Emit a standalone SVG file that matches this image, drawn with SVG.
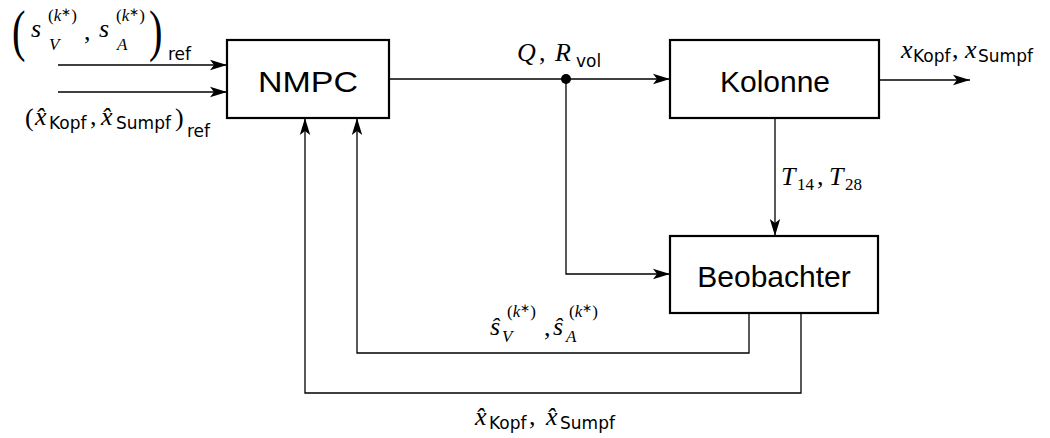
<svg xmlns="http://www.w3.org/2000/svg" width="1050" height="438" viewBox="0 0 1050 438">
<style>
.box{fill:#fff;stroke:#000;stroke-width:2.2}
.lbl{font-family:"Liberation Sans",Arial,sans-serif;font-size:30px;fill:#000}
.ln{fill:none;stroke:#000;stroke-width:1.3}
.mi{font-family:"Liberation Serif","Times New Roman",serif;font-style:italic;font-size:26px}
.mr{font-family:"Liberation Serif","Times New Roman",serif;font-size:26px}
.sup{font-family:"Liberation Serif","Times New Roman",serif;font-size:17px}
.sf{font-family:"DejaVu Sans",Arial,sans-serif;font-size:17px}
.big{font-family:"Liberation Serif","Times New Roman",serif;font-size:54px}
</style>
<defs>
<marker id="ah" markerUnits="userSpaceOnUse" markerWidth="20" markerHeight="12" refX="18" refY="6" orient="auto">
<path d="M18,6 L1,0.8 L5,6 L1,11.2 Z" fill="#000"/>
</marker>
</defs>
<g id="connectors">
<line class="ln" x1="58" y1="65" x2="227" y2="65" marker-end="url(#ah)"/>
<line class="ln" x1="58" y1="92" x2="227" y2="92" marker-end="url(#ah)"/>
<line class="ln" x1="389" y1="79" x2="670" y2="79" marker-end="url(#ah)"/>
<polyline class="ln" points="566,79 566,274 670,274" marker-end="url(#ah)"/>
<circle cx="566" cy="79" r="5" fill="#000"/>
<line class="ln" x1="775" y1="118" x2="775" y2="236" marker-end="url(#ah)"/>
<line class="ln" x1="879" y1="80" x2="970" y2="80" marker-end="url(#ah)"/>
<polyline class="ln" points="749,314 749,353 357,353 357,118" marker-end="url(#ah)"/>
<polyline class="ln" points="801,314 801,393 305,393 305,118" marker-end="url(#ah)"/>
</g>
<g id="nmpc">
<rect class="box" x="227" y="40" width="162" height="78"/>
<text class="lbl" x="308" y="92" text-anchor="middle" textLength="100" lengthAdjust="spacingAndGlyphs">NMPC</text>
</g>
<g id="kolonne">
<rect class="box" x="670" y="40" width="209" height="78"/>
<text class="lbl" x="775" y="92" text-anchor="middle">Kolonne</text>
</g>
<g id="beobachter">
<rect class="box" x="670" y="236" width="208" height="77"/>
<text class="lbl" x="774" y="287" text-anchor="middle">Beobachter</text>
</g>
<g id="labels" fill="#000">
<!-- top-left reference label -->
<text class="big" transform="translate(12,50) scale(0.75,1.05)">(</text>
<text class="mi" x="31" y="37">s</text>
<text class="sup" x="48" y="21">(<tspan font-style="italic">k</tspan><tspan style="font-size:12px" dy="-5">∗</tspan><tspan dy="5">)</tspan></text>
<text class="sup" font-style="italic" x="49" y="50">V</text>
<text class="mr" x="84" y="40">,</text>
<text class="mi" x="99" y="37">s</text>
<text class="sup" x="116" y="21">(<tspan font-style="italic">k</tspan><tspan style="font-size:12px" dy="-5">∗</tspan><tspan dy="5">)</tspan></text>
<text class="sup" font-style="italic" x="117" y="50">A</text>
<text class="big" transform="translate(149,50) scale(0.75,1.05)">)</text>
<text class="sf" x="168" y="60">ref</text>
<!-- bottom-left reference label -->
<text class="mr" x="25" y="126">(</text>
<text class="mi" x="35" y="125">x&#x302;</text>
<text class="sf" x="49" y="129">Kopf</text>
<text class="mr" x="90" y="125">,</text>
<text class="mi" x="101" y="125">x&#x302;</text>
<text class="sf" x="116" y="129">Sumpf</text>
<text class="mr" x="175" y="126">)</text>
<text class="sf" x="187" y="137">ref</text>
<!-- Q, R_vol -->
<text class="mi" x="517" y="61">Q</text>
<text class="mr" x="539" y="61">,</text>
<text class="mi" x="555" y="61">R</text>
<text class="sf" x="576" y="67">vol</text>
<!-- x_Kopf, x_Sumpf -->
<text class="mi" x="901" y="58">x</text>
<text class="sf" x="913" y="62">Kopf</text>
<text class="mr" x="952" y="58">,</text>
<text class="mi" x="965" y="58">x</text>
<text class="sf" x="978" y="62">Sumpf</text>
<!-- T14, T28 -->
<text class="mi" x="781" y="185">T</text>
<text class="sup" x="797" y="190">14</text>
<text class="mr" x="817" y="185">,</text>
<text class="mi" x="829" y="185">T</text>
<text class="sup" x="845" y="190">28</text>
<!-- s hat -->
<text class="mi" x="490" y="335">s&#x302;</text>
<text class="sup" x="507" y="317">(<tspan font-style="italic">k</tspan><tspan style="font-size:12px" dy="-5">∗</tspan><tspan dy="5">)</tspan></text>
<text class="sup" font-style="italic" x="502" y="342">V</text>
<text class="mr" x="544" y="336">,</text>
<text class="mi" x="553" y="335">s&#x302;</text>
<text class="sup" x="569" y="317">(<tspan font-style="italic">k</tspan><tspan style="font-size:12px" dy="-5">∗</tspan><tspan dy="5">)</tspan></text>
<text class="sup" font-style="italic" x="566" y="342">A</text>
<!-- bottom x hat -->
<text class="mi" x="475" y="425">x&#x302;</text>
<text class="sf" x="489" y="429">Kopf</text>
<text class="mr" x="529" y="425">,</text>
<text class="mi" x="546" y="425">x&#x302;</text>
<text class="sf" x="560" y="429">Sumpf</text>
</g>
</svg>
